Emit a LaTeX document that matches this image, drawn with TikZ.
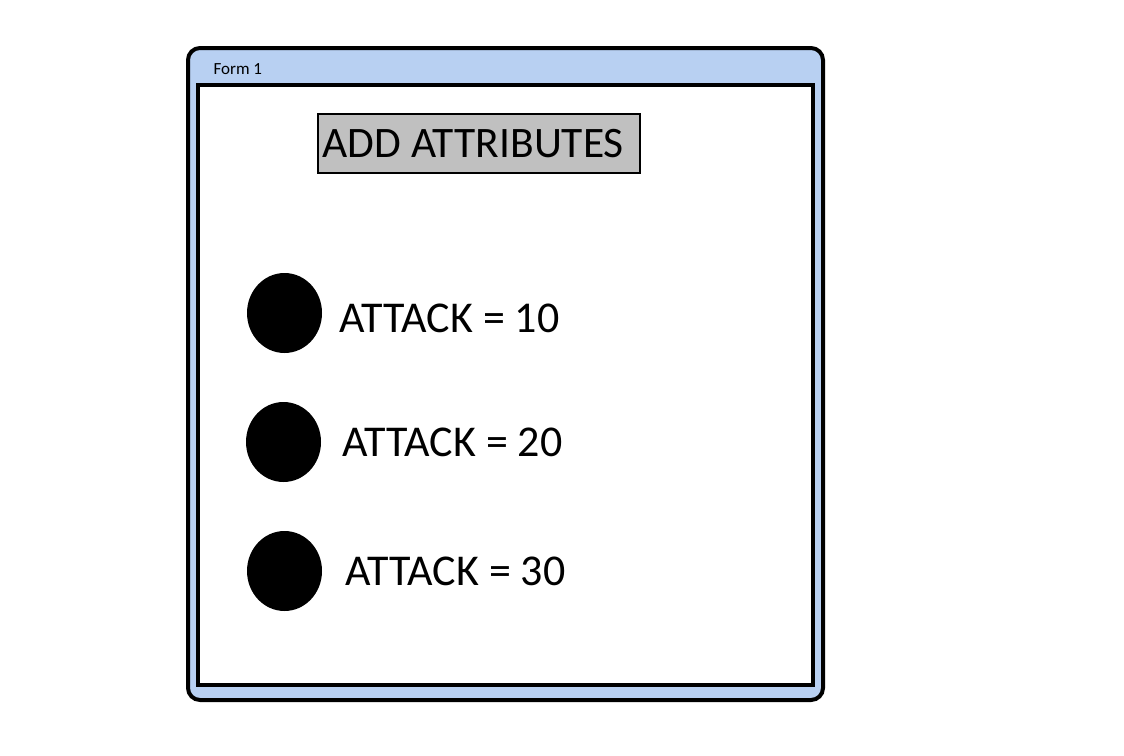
\documentclass[tikz,border=0pt]{standalone}
\usepackage{fontspec}
\setmainfont{Carlito}
\definecolor{barblue}{HTML}{B8D0F2}
\definecolor{btngray}{HTML}{C0C0C0}
\tikzset{
	formframe/.style={draw, line width=4pt, rounded corners=12pt, fill=barblue},
	formbody/.style={draw, line width=4pt, fill=white},
	btnbox/.style={draw, line width=2pt, fill=btngray, inner sep=0pt},
	radiodot/.style={fill=black, ellipse, minimum width=75pt, minimum height=80pt, inner sep=0pt},
	attrtext/.style={anchor=west, font=\fontsize{44}{50}\selectfont}
}
\usetikzlibrary{shapes.geometric}
\begin{document}
\begin{tikzpicture}[x=1pt, y=-1pt]
			\useasboundingbox (0,0) rectangle (1124,755);
			\draw [formframe] (188,48) rectangle (823,700);
			\draw [formbody] (198,85) rectangle (813,685);
			\node [anchor=west, font=\fontsize{17}{19}\selectfont] (title) at (210,69) {Form 1};
			\draw [btnbox] (318,114) rectangle (640,173);
			\node [anchor=west, font=\fontsize{43.5}{46}\selectfont] (addbtn) at (319,144) {ADD ATTRIBUTES};
			\node [radiodot] (dot1) at (284.5,313) {};
			\node [radiodot] (dot2) at (283.5,442) {};
			\node [radiodot] (dot3) at (284.5,571) {};
			\node [attrtext] (att1) at (336,318) {ATTACK = 10};
			\node [attrtext] (att2) at (339,442) {ATTACK = 20};
			\node [attrtext] (att3) at (342,571) {ATTACK = 30};
		\end{tikzpicture}
\end{document}
